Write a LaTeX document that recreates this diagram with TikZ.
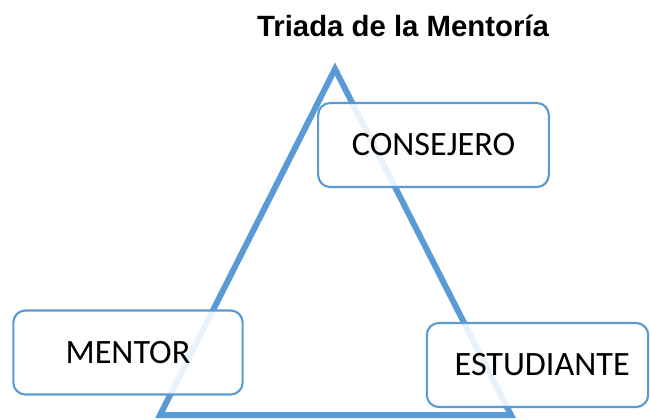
\documentclass[tikz,border=0pt]{standalone}
\usepackage{fontspec}
\setmainfont{Carlito}
\newfontfamily\titlefont{Liberation Sans}
\definecolor{tblue}{HTML}{5B9BD5}
\begin{document}
\begin{tikzpicture}[x=0.75pt,y=-0.75pt,
  rolebox/.style={draw=tblue,line width=1.6pt,rounded corners=9pt,fill=white,fill opacity=0.87,text opacity=1,
    minimum width=#1,minimum height=63pt,inner sep=0pt,font=\fontsize{25.6}{30}\selectfont},
  rolebox/.default=172pt,
  tri/.style={draw=tblue,line width=4.5pt,line join=miter}]
\useasboundingbox (0,0) rectangle (650,419);
\node[font=\titlefont\bfseries\fontsize{22}{26}\selectfont] (title) at (403,26) {Triada de la Mentoría};
\coordinate (apex) at (335,69);
\coordinate (bl) at (160,415);
\coordinate (br) at (511,415);
\draw[tri] (apex) -- (br) -- (bl) -- cycle;
\node[rolebox=173pt] (consejero) at (433.5,145) {CONSEJERO};
\node[rolebox=172pt] (mentor) at (128,352.5) {MENTOR};
\node[rolebox=166pt] (estudiante) at (537.5,365) {\hspace*{7pt}ESTUDIANTE};
\end{tikzpicture}
\end{document}
